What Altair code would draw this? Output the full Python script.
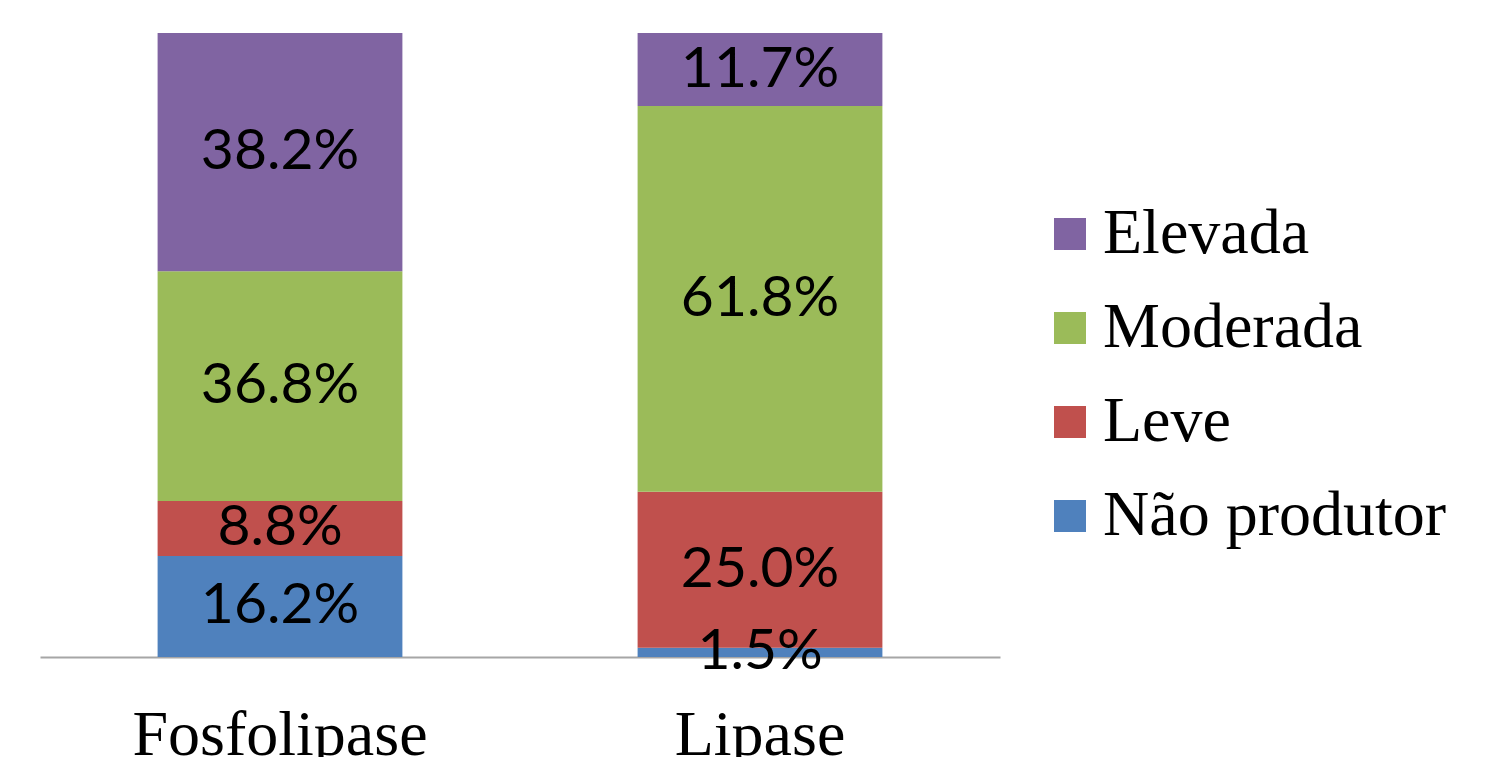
import altair as alt
import pandas as pd

enzymes = ["Fosfolipase", "Lipase"]
categories = ["Não produtor", "Leve", "Moderada", "Elevada"]
fosfolipase = [16.2, 8.8, 36.8, 38.2]
lipase = [1.5, 25.0, 61.8, 11.7]
legend_order = ["Elevada", "Moderada", "Leve", "Não produtor"]
colors = ["#8064A2", "#9BBB59", "#C0504D", "#4F81BD"]

rows = []
for enz, vals in zip(enzymes, [fosfolipase, lipase]):
    for i, (cat, v) in enumerate(zip(categories, vals)):
        rows.append({"enzyme": enz, "cat": cat, "value": v, "ord": i,
                     "label": f"{v:.1f}%"})
df = pd.DataFrame(rows)

base = alt.Chart(df).transform_stack(
    stack="value", groupby=["enzyme"], sort=[alt.SortField("ord", order="ascending")],
    as_=["y0", "y1"]
).transform_calculate(mid="(datum.y0 + datum.y1) / 2")

xenc = alt.X("enzyme:N", sort=enzymes, title=None,
             scale=alt.Scale(paddingInner=0.49, paddingOuter=0.245),
             axis=alt.Axis(labelAngle=0, ticks=False, labelPadding=97,
                           labelBaseline="alphabetic", labelFont="Liberation Serif",
                           labelFontSize=64, labelColor="black", labelLimit=600,
                           domainColor="#A6A6A6", domainWidth=2))

bars = base.mark_bar(stroke=None).encode(
    x=xenc,
    y=alt.Y("y0:Q", scale=alt.Scale(domain=[0, 100]), axis=None),
    y2="y1:Q",
    color=alt.Color("cat:N", scale=alt.Scale(domain=legend_order, range=colors),
                    legend=alt.Legend(title=None, orient="none", legendX=998, legendY=169,
                                      symbolType="square", symbolSize=1024,
                                      symbolStrokeWidth=0,
                                      labelFont="Liberation Serif", labelFontSize=64,
                                      labelColor="black", labelOffset=1,
                                      rowPadding=30, labelLimit=600)),
)

texts = base.mark_text(font="Lato", fontSize=57, color="black", baseline="middle").encode(
    x=alt.X("enzyme:N", sort=enzymes),
    y=alt.Y("mid:Q"),
    text="label:N",
)

chart = alt.layer(bars, texts).properties(
    width=960, height=624,
    autosize=alt.AutoSizeParams(type="none"),
    padding={"left": 40, "top": 33, "right": 488, "bottom": 100},
).configure_view(stroke=None).configure_axis(grid=False)

chart.save("out.html", embed_options={"renderer": "svg", "actions": False})
